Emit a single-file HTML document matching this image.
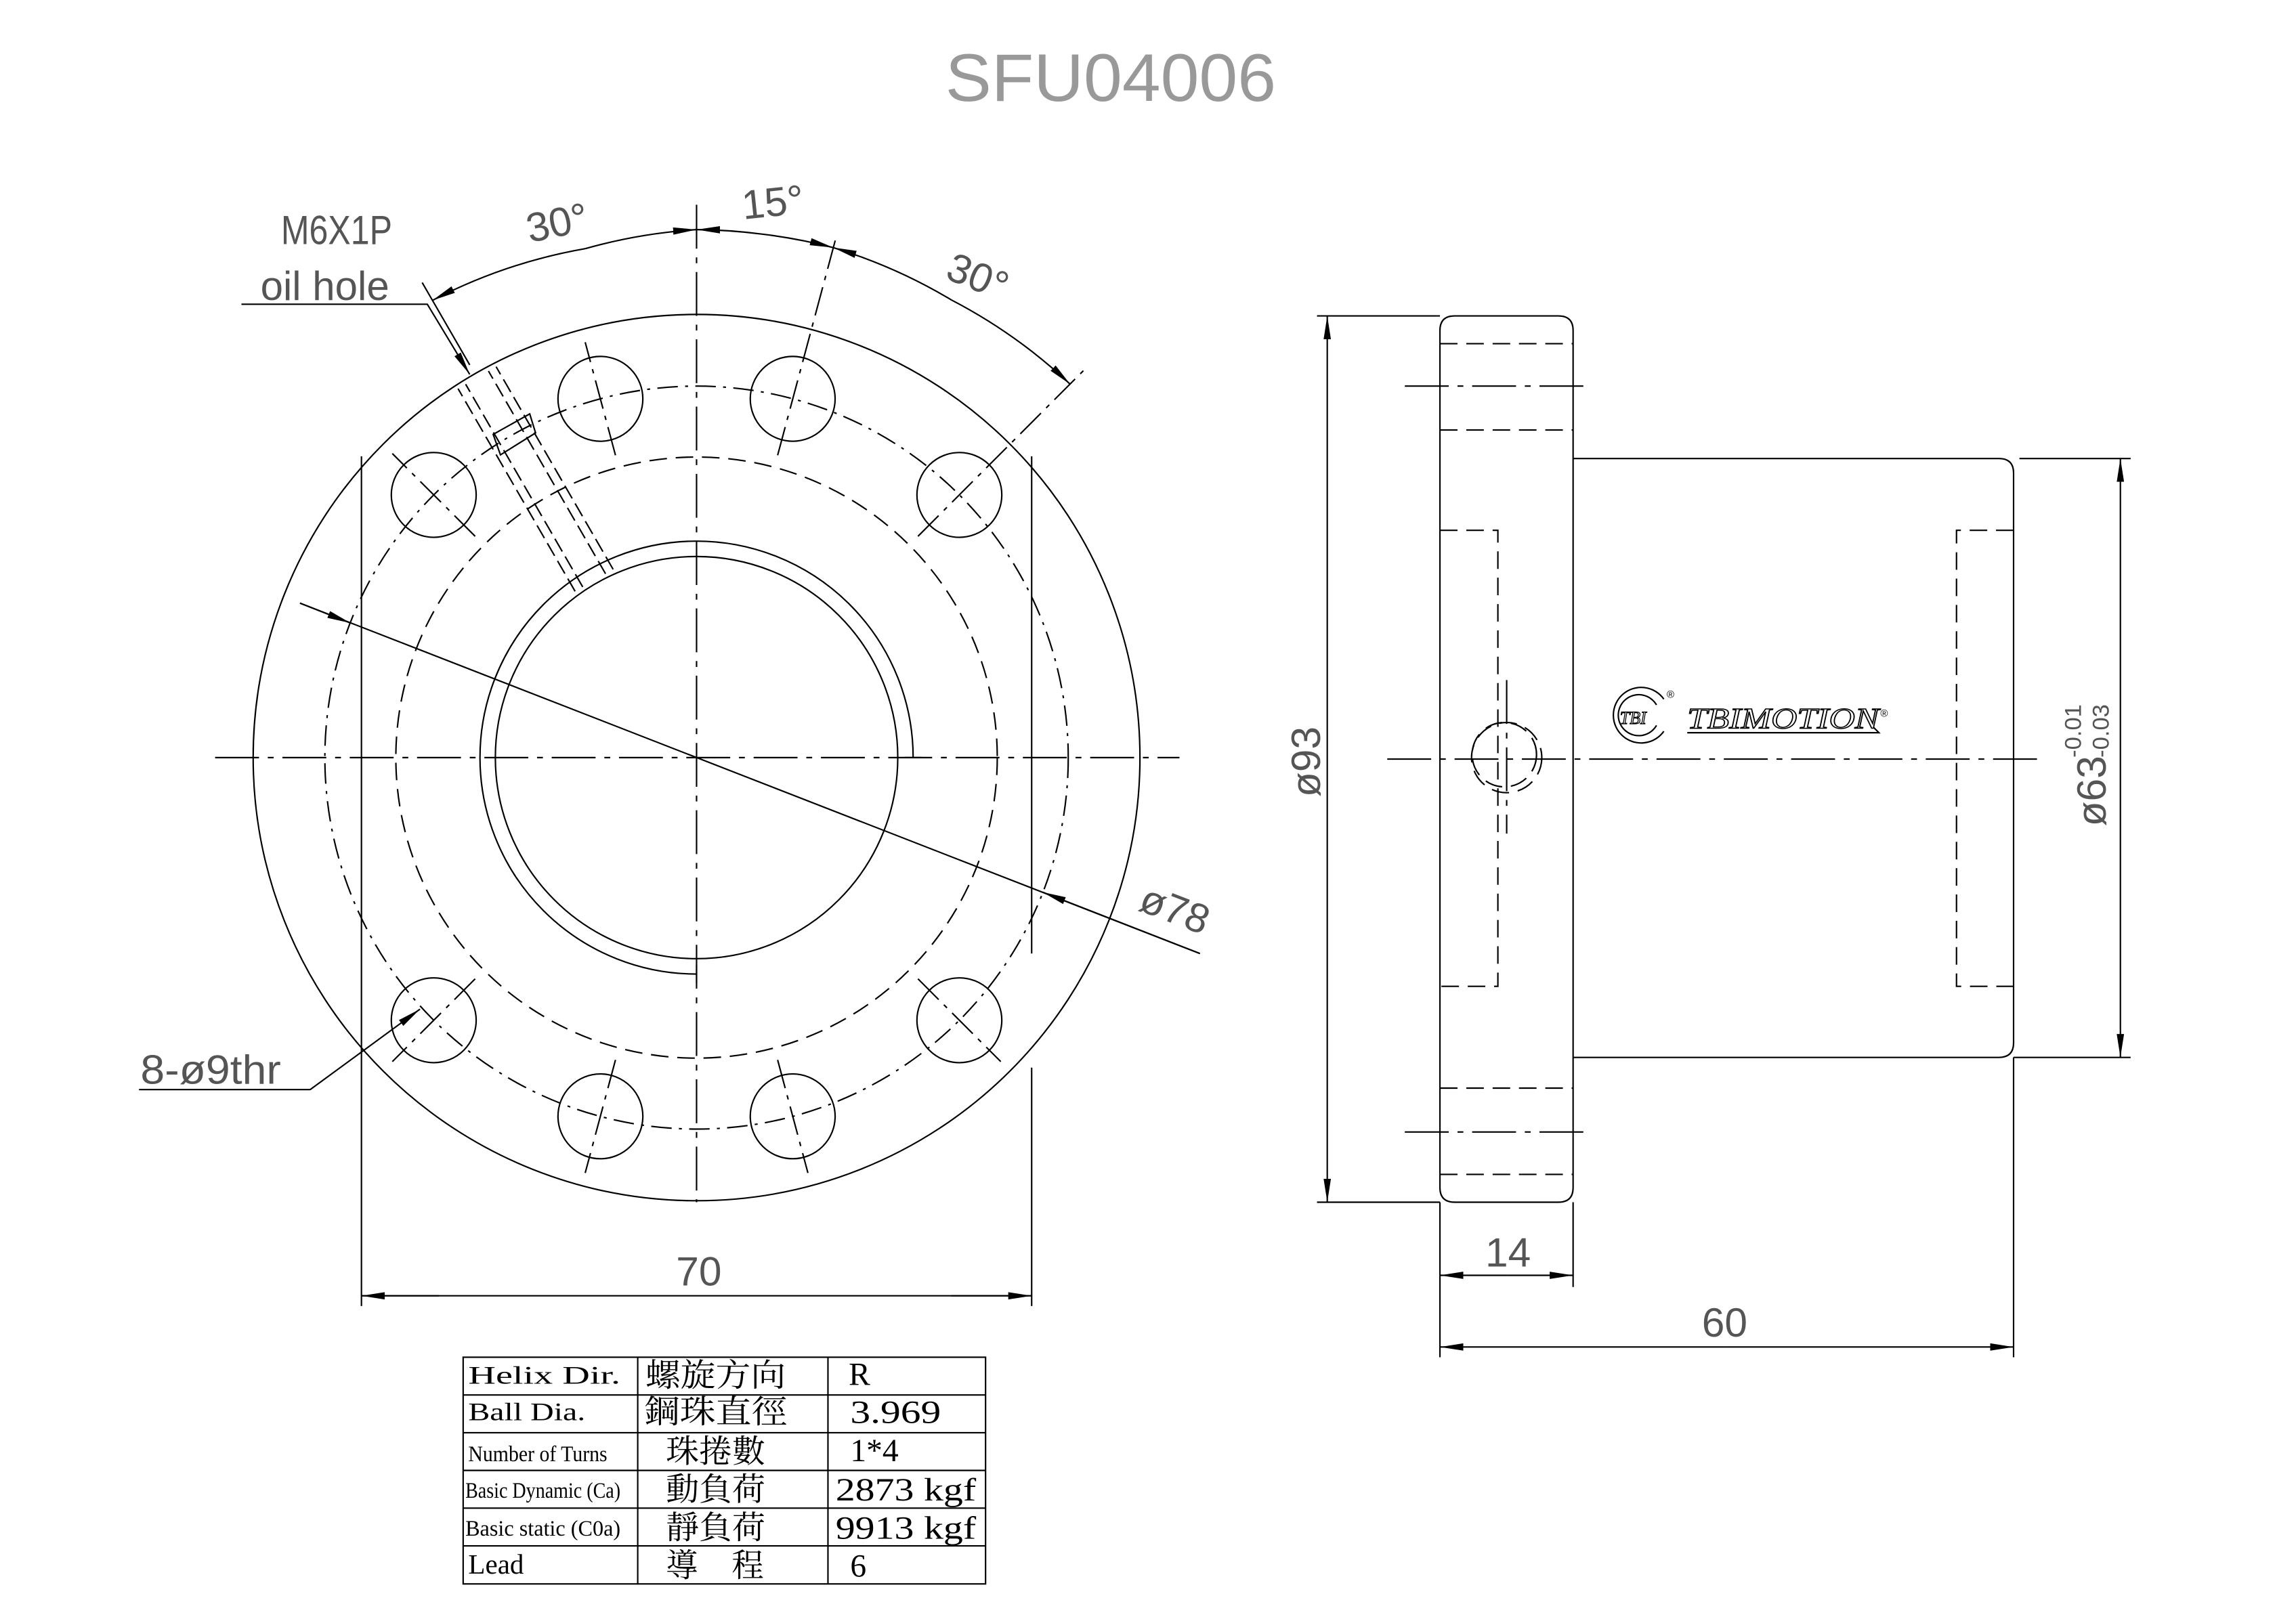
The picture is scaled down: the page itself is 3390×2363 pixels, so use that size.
<!DOCTYPE html>
<html><head><meta charset="utf-8"><style>
html,body{margin:0;padding:0;background:#fff;}
svg{display:block;}
.t{font-family:"Liberation Sans Narrow","Liberation Sans",sans-serif;fill:#555;}
.s{font-family:"Liberation Serif","Noto Serif CJK SC","Noto Sans CJK TC",serif;fill:#000;}
</style></head><body>
<svg width="3390" height="2363" viewBox="0 0 1569 1094" preserveAspectRatio="none" xmlns="http://www.w3.org/2000/svg">
<defs>
<marker id="a" markerUnits="userSpaceOnUse" markerWidth="20" markerHeight="10" refX="16" refY="4" orient="auto">
<path d="M0,1.5 L16,4 L0,6.5 z" fill="#000"/>
</marker>
</defs>
<rect width="1569" height="1094" fill="#fff"/>
<text x="646" y="69" font-size="46" textLength="226" lengthAdjust="spacingAndGlyphs" font-family="Liberation Sans Narrow, Liberation Sans, sans-serif" style="fill:#999">SFU04006</text>

<g fill="none" stroke="#000" stroke-width="1">
<circle cx="476" cy="518" r="303"/>
<circle cx="476" cy="518" r="254" stroke-dasharray="14,5,2,5"/>
<circle cx="476" cy="518" r="205.5" stroke-dasharray="12,6"/>
<circle cx="476" cy="518" r="137.5"/>
<path d="M624,518 A148,148 0 1 0 476,666"/>
<line x1="618" y1="518" x2="630" y2="518"/>
<line x1="476" y1="660" x2="476" y2="672"/>
<line x1="147" y1="518" x2="806" y2="518" stroke-dasharray="30,6,4,6"/>
<line x1="476" y1="140" x2="476" y2="822" stroke-dasharray="30,6,4,6"/>
<line x1="247" y1="312" x2="247" y2="893"/>
<line x1="705" y1="312" x2="705" y2="652"/>
<line x1="705" y1="730" x2="705" y2="893"/>
<circle cx="541.7" cy="272.7" r="29"/><circle cx="410.3" cy="272.7" r="29"/>
<circle cx="655.6" cy="338.4" r="29"/><circle cx="296.4" cy="338.4" r="29"/>
<circle cx="655.6" cy="697.6" r="29"/><circle cx="296.4" cy="697.6" r="29"/>
<circle cx="541.7" cy="763.3" r="29"/><circle cx="410.3" cy="763.3" r="29"/>
<g stroke-dasharray="20,5,3,5">
<line x1="531.4" y1="311.3" x2="571.8" y2="160.6"/>
<line x1="420.6" y1="311.3" x2="399.9" y2="234"/>
<line x1="627.3" y1="366.7" x2="741" y2="252.8"/>
<line x1="324.7" y1="366.7" x2="268.1" y2="310.1"/>
<line x1="627.3" y1="669.3" x2="683.9" y2="725.9"/>
<line x1="324.7" y1="669.3" x2="268.1" y2="725.9"/>
<line x1="531.4" y1="724.7" x2="552.1" y2="802"/>
<line x1="420.6" y1="724.7" x2="399.9" y2="802"/>
</g>
<g stroke-dasharray="10,4">
<line x1="413.8" y1="392.3" x2="333.8" y2="253.7"/>
<line x1="398.2" y1="401.3" x2="318.2" y2="262.7"/>
<line x1="419" y1="389.3" x2="339" y2="250.7"/>
<line x1="393" y1="404.3" x2="313" y2="265.7"/>
</g>
<path d="M337,297 L362,283 L366,296 L342,311 z"/>
<line x1="321" y1="249.5" x2="288.5" y2="193.2"/>
<path d="M400,170 A361,361 0 0 0 295.5,205.4" marker-end="url(#a)"/>
<path d="M400,170 A361,361 0 0 1 476,157" marker-end="url(#a)"/>
<path d="M520,160 A361,361 0 0 0 476,157" marker-end="url(#a)"/>
<path d="M520,160 A361,361 0 0 1 569.4,169.3" marker-end="url(#a)"/>
<path d="M650,205 A361,361 0 0 0 569.4,169.3" marker-end="url(#a)"/>
<path d="M650,205 A361,361 0 0 1 731.3,262.7" marker-end="url(#a)"/>
<polyline points="165,208 292,208 321,256" marker-end="url(#a)"/>
<polyline points="95,745 212,745 287,690" marker-end="url(#a)"/>
<line x1="205" y1="412.4" x2="820" y2="652"/>
<line x1="205" y1="412.4" x2="239.5" y2="426" marker-end="url(#a)"/>
<line x1="820" y1="652" x2="712.5" y2="610" marker-end="url(#a)"/>
<line x1="300" y1="886" x2="247" y2="886" marker-end="url(#a)"/>
<line x1="247" y1="886" x2="705" y2="886"/>
<line x1="650" y1="886" x2="705" y2="886" marker-end="url(#a)"/>

<path d="M984,226 Q984,216 994,216 L1065,216 Q1075,216 1075,226 L1075,812 Q1075,822 1065,822 L994,822 Q984,822 984,812 z"/>
<path d="M1075,313.5 L1366,313.5 Q1376,313.5 1376,323.5 L1376,713 Q1376,723 1366,723 L1075,723"/>
<g stroke-dasharray="12,6">
<line x1="984" y1="235" x2="1075" y2="235"/>
<line x1="984" y1="294" x2="1075" y2="294"/>
<line x1="984" y1="744" x2="1075" y2="744"/>
<line x1="984" y1="803" x2="1075" y2="803"/>
<polyline points="984,362.6 1023.6,362.6 1023.6,674.4 984,674.4"/>
<polyline points="1376,362.6 1337,362.6 1337,674.4 1376,674.4"/>
<circle cx="1029.6" cy="518" r="24"/>
<circle cx="1028" cy="516" r="22"/>
</g>
<g stroke-dasharray="30,6,4,6">
<line x1="960" y1="264" x2="1082" y2="264"/>
<line x1="960" y1="774" x2="1082" y2="774"/>
<line x1="948" y1="519" x2="1395" y2="519"/>
<line x1="1029.6" y1="465" x2="1029.6" y2="570"/>
</g>
<line x1="900" y1="216" x2="984" y2="216"/><line x1="900" y1="822" x2="984" y2="822"/>
<line x1="907" y1="400" x2="907" y2="216" marker-end="url(#a)"/>
<line x1="907" y1="400" x2="907" y2="822" marker-end="url(#a)"/>
<line x1="1380" y1="313.5" x2="1456" y2="313.5"/><line x1="1376" y1="723" x2="1456" y2="723"/>
<line x1="1449" y1="500" x2="1449" y2="313.5" marker-end="url(#a)"/>
<line x1="1449" y1="500" x2="1449" y2="723" marker-end="url(#a)"/>
<line x1="984" y1="822" x2="984" y2="928"/><line x1="1075" y1="822" x2="1075" y2="880"/>
<line x1="1376" y1="723" x2="1376" y2="928"/>
<line x1="1030" y1="872" x2="984" y2="872" marker-end="url(#a)"/>
<line x1="1030" y1="872" x2="1075" y2="872" marker-end="url(#a)"/>
<line x1="1180" y1="921" x2="984" y2="921" marker-end="url(#a)"/>
<line x1="1180" y1="921" x2="1376" y2="921" marker-end="url(#a)"/>
<path d="M1137,478 A19,19 0 1 0 1137,500"/>
<path d="M1132,482 A14,14 0 1 0 1132,496"/>
<polyline points="1153,501 1284,501 1280,497"/>
</g>
<text x="1107" y="495" font-family="Liberation Serif,serif" font-style="italic" font-size="12" fill="#fff" stroke="#000" stroke-width="0.6">TBI</text>
<text x="1153" y="498" font-family="Liberation Serif,serif" font-style="italic" font-size="20" textLength="131" lengthAdjust="spacingAndGlyphs" fill="#fff" stroke="#000" stroke-width="0.7">TBIMOTION</text>
<text x="1285" y="490" font-size="7" font-family="Liberation Sans,sans-serif">®</text>
<text x="1139" y="477" font-size="7" font-family="Liberation Sans,sans-serif">®</text>

<g class="t" font-size="28">
<text x="192" y="167" textLength="76" lengthAdjust="spacingAndGlyphs">M6X1P</text>
<text x="178" y="205" textLength="88" lengthAdjust="spacingAndGlyphs">oil hole</text>
<text x="0" y="0" transform="translate(362,166) rotate(-12)">30°</text>
<text x="0" y="0" transform="translate(508,150) rotate(-6)">15°</text>
<text x="0" y="0" transform="translate(645,190) rotate(22)">30°</text>
<text x="96" y="741" textLength="96" lengthAdjust="spacingAndGlyphs">8-ø9thr</text>
<text x="0" y="0" transform="translate(777,622) rotate(21)">ø78</text>
<text x="462" y="879">70</text>
<text x="1015" y="866">14</text>
<text x="1163" y="914">60</text>
<text x="0" y="0" transform="translate(902,545) rotate(-90)">ø93</text>
<text x="0" y="0" transform="translate(1439,565) rotate(-90)">ø63</text>
<text x="0" y="0" font-size="16" transform="translate(1422,518) rotate(-90)">-0.01</text>
<text x="0" y="0" font-size="16" transform="translate(1441,518) rotate(-90)">-0.03</text>
</g>

<g fill="none" stroke="#000" stroke-width="1">
<rect x="316.5" y="928" width="357" height="155"/>
<line x1="435.8" y1="928" x2="435.8" y2="1083"/>
<line x1="565.8" y1="928" x2="565.8" y2="1083"/>
<line x1="316.5" y1="953.8" x2="673.5" y2="953.8"/>
<line x1="316.5" y1="979.6" x2="673.5" y2="979.6"/>
<line x1="316.5" y1="1005.4" x2="673.5" y2="1005.4"/>
<line x1="316.5" y1="1031.2" x2="673.5" y2="1031.2"/>
<line x1="316.5" y1="1057" x2="673.5" y2="1057"/>
</g>
<g class="s" font-size="20">
<text x="320" y="946" font-size="17" textLength="104" lengthAdjust="spacingAndGlyphs">Helix  Dir.</text>
<text x="320" y="971" font-size="17" textLength="80" lengthAdjust="spacingAndGlyphs">Ball Dia.</text>
<text x="320" y="999" font-size="15" textLength="95" lengthAdjust="spacingAndGlyphs">Number of Turns</text>
<text x="318" y="1024" font-size="15" textLength="106" lengthAdjust="spacingAndGlyphs">Basic Dynamic (Ca)</text>
<text x="318" y="1050" font-size="15" textLength="106" lengthAdjust="spacingAndGlyphs">Basic static (C0a)</text>
<text x="320" y="1076" font-size="19" textLength="38" lengthAdjust="spacingAndGlyphs">Lead</text>
<text x="441" y="948" font-size="22" textLength="96" lengthAdjust="spacingAndGlyphs">螺旋方向</text>
<text x="440" y="973" font-size="22" textLength="98" lengthAdjust="spacingAndGlyphs">鋼珠直徑</text>
<text x="455" y="1000" font-size="22" textLength="68" lengthAdjust="spacingAndGlyphs">珠捲數</text>
<text x="455" y="1026" font-size="22" textLength="68" lengthAdjust="spacingAndGlyphs">動負荷</text>
<text x="455" y="1052" font-size="22" textLength="68" lengthAdjust="spacingAndGlyphs">靜負荷</text>
<text x="455" y="1078" font-size="22">導</text>
<text x="500" y="1078" font-size="22">程</text>
<text x="580" y="947" font-size="22">R</text>
<text x="581" y="973" font-size="22" textLength="62" lengthAdjust="spacingAndGlyphs">3.969</text>
<text x="581" y="999" font-size="22">1*4</text>
<text x="571" y="1026" font-size="22" textLength="96" lengthAdjust="spacingAndGlyphs">2873 kgf</text>
<text x="571" y="1052" font-size="22" textLength="96" lengthAdjust="spacingAndGlyphs">9913 kgf</text>
<text x="581" y="1078" font-size="22">6</text>
</g>
</svg>
</body></html>
